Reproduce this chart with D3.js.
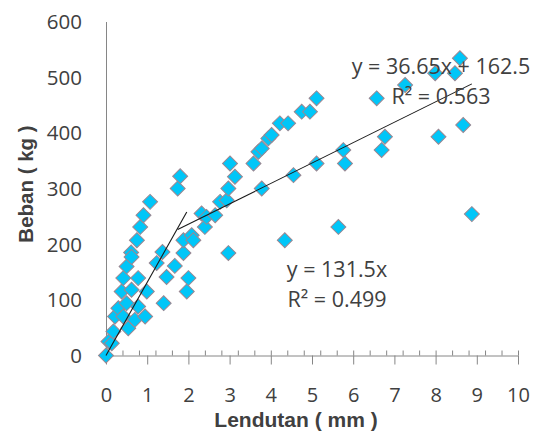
<!DOCTYPE html>
<html>
<head>
<meta charset="utf-8">
<script src="https://cdn.jsdelivr.net/npm/d3@7"></script>
<style>
  body { margin: 0; background: #fff; }
  svg { display: block; }
</style>
</head>
<body>
<svg id="chart" width="540" height="431"></svg>
<script>
// Axis ticks
const xTicks = [0, 1, 2, 3, 4, 5, 6, 7, 8, 9, 10];
const xMinorTicks = d3.range(0, 10.001, 0.4);
const yTicks = [0, 100, 200, 300, 400, 500, 600];

// Low-deflection group: [lendutan (mm), beban (kg)]
const seriesLow = [
  [0, 0], [0.06, 25], [0.14, 22], [0.18, 43], [0.22, 70], [0.30, 85],
  [0.38, 115], [0.42, 70], [0.42, 139], [0.50, 94], [0.50, 160], [0.54, 49],
  [0.61, 185], [0.62, 118], [0.62, 177], [0.70, 64], [0.75, 207], [0.78, 88],
  [0.78, 139], [0.83, 231], [0.91, 252], [0.95, 70], [0.99, 115], [1.07, 276],
  [1.23, 166], [1.37, 186], [1.40, 94], [1.47, 141], [1.67, 161], [1.88, 184],
  [1.88, 207], [1.96, 115]
];

// High-deflection group: [lendutan (mm), beban (kg)]
const seriesHigh = [
  [1.74, 300], [1.80, 322], [2.00, 139], [2.08, 216], [2.12, 207], [2.32, 255],
  [2.40, 231], [2.44, 249], [2.65, 252], [2.77, 276], [2.93, 279], [2.97, 184],
  [2.97, 300], [3.01, 345], [3.13, 321], [3.58, 345], [3.70, 366], [3.78, 300],
  [3.78, 372], [3.94, 390], [4.02, 396], [4.22, 417], [4.34, 207], [4.42, 417],
  [4.55, 324], [4.75, 438], [4.95, 438], [5.11, 345], [5.11, 462], [5.64, 231],
  [5.76, 369], [5.80, 345], [6.57, 462], [6.69, 369], [6.77, 393], [7.26, 486],
  [7.99, 507], [8.07, 393], [8.47, 507], [8.59, 534], [8.67, 414], [8.88, 254]
];

// Fitted trend lines
const trendLowSlope = 131.5, trendLowIntercept = 0;
const trendHighSlope = 36.65, trendHighIntercept = 162.5;
const trendLowLabels = ["y = 131.5x", "R\u00B2 = 0.499"];
const trendHighLabels = ["y = 36.65x + 162.5", "R\u00B2 = 0.563"];

const svg = d3.select("#chart");
const textColor = "#404040";
const axisColor = "#868686";
const font = "'Open Sans', 'Noto Sans', sans-serif";
const titleFont = "'Liberation Sans', Arial, sans-serif";

const x = d3.scaleLinear().domain([0, 10]).range([106, 518]);
const y = d3.scaleLinear().domain([0, 600]).range([355.5, 21.5]);

// Horizontal axis: long outer ticks every 1 mm, short inner ticks every 0.4 mm
const xAxisG = svg.append("g")
  .attr("transform", `translate(0,${y(0)})`)
  .call(d3.axisBottom(x).tickValues(xTicks).tickSize(9).tickSizeOuter(0).tickFormat(d3.format("d")));
xAxisG.select(".domain").attr("stroke", axisColor);
xAxisG.selectAll(".tick line").attr("stroke", axisColor);
xAxisG.selectAll("text")
  .attr("y", 46).attr("dy", null)
  .attr("fill", textColor)
  .style("font-family", font).style("font-size", "20px");

const xMinorG = svg.append("g")
  .attr("transform", `translate(0,${y(0)})`)
  .call(d3.axisTop(x).tickValues(xMinorTicks).tickSize(5).tickFormat(""));
xMinorG.select(".domain").remove();
xMinorG.selectAll(".tick line").attr("stroke", axisColor);

// Vertical axis: no tick marks, labels only
const yAxisG = svg.append("g")
  .attr("transform", `translate(${x(0)},0)`)
  .call(d3.axisLeft(y).tickValues(yTicks).tickSize(0).tickSizeOuter(0).tickPadding(24));
yAxisG.select(".domain").attr("stroke", axisColor);
yAxisG.selectAll("text")
  .attr("fill", textColor)
  .attr("dy", "0.34em")
  .style("font-family", font).style("font-size", "20.5px");

// Axis titles
svg.append("text")
  .attr("x", 296).attr("y", 427)
  .attr("text-anchor", "middle")
  .attr("fill", textColor)
  .style("font-family", titleFont).style("font-size", "21px").style("font-weight", "bold")
  .text("Lendutan ( mm )");

svg.append("text")
  .attr("transform", "translate(33,184) rotate(-90)")
  .attr("text-anchor", "middle")
  .attr("fill", textColor)
  .style("font-family", titleFont).style("font-size", "20.5px").style("font-weight", "bold")
  .text("Beban ( kg )");

// Diamond markers
const diamond = d3.symbol().type(d3.symbolSquare).size(112);
function drawPoints(data) {
  svg.append("g").selectAll("path")
    .data(data)
    .join("path")
    .attr("d", diamond)
    .attr("transform", d => `translate(${x(d[0])},${y(d[1])}) rotate(45)`)
    .attr("fill", "#00C6F8")
    .attr("stroke", "#9a8792")
    .attr("stroke-width", 1);
}
drawPoints(seriesLow);
drawPoints(seriesHigh);

// Trend lines spanning each group's deflection range
function drawTrend(data, slope, intercept) {
  const [x0, x1] = d3.extent(data, d => d[0]);
  svg.append("line")
    .attr("x1", x(x0)).attr("y1", y(slope * x0 + intercept))
    .attr("x2", x(x1)).attr("y2", y(slope * x1 + intercept))
    .attr("stroke", "#1a1a1a")
    .attr("stroke-width", 1.1);
}
drawTrend(seriesLow, trendLowSlope, trendLowIntercept);
drawTrend(seriesHigh, trendHighSlope, trendHighIntercept);

// Trend equations
function drawLabels(lines, cx, baseline) {
  svg.append("g").selectAll("text")
    .data(lines)
    .join("text")
    .attr("x", cx)
    .attr("y", (d, i) => baseline + i * 30)
    .attr("text-anchor", "middle")
    .attr("fill", textColor)
    .style("font-family", font).style("font-size", "21.5px")
    .text(d => d);
}
drawLabels(trendHighLabels, 441, 73.5);
drawLabels(trendLowLabels, 337, 276.5);
</script>
</body>
</html>
